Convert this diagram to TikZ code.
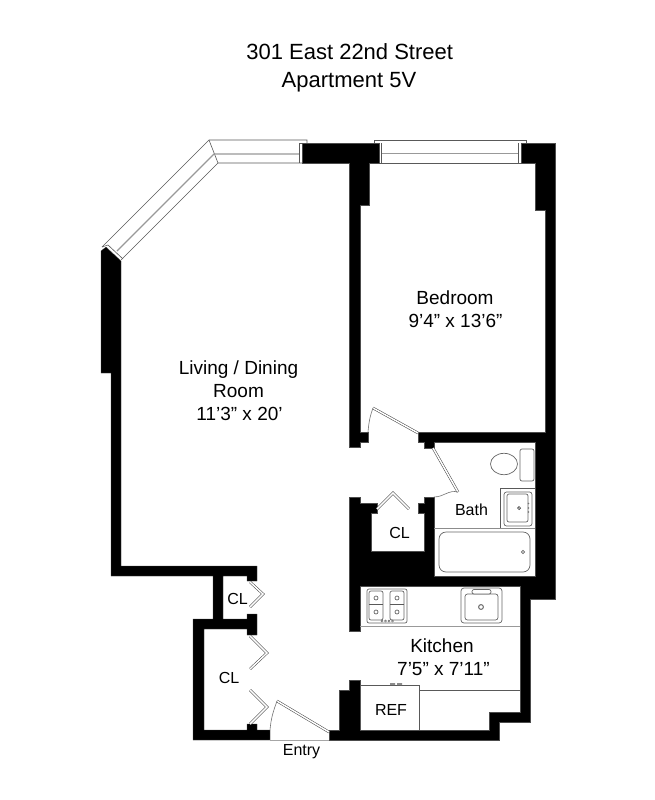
\documentclass[tikz,border=0pt]{standalone}
\usepackage{fontspec}
\setmainfont{Liberation Sans}
\tikzset{
  wall/.style={fill=black,draw=black!70,line width=0.3pt},
  thinl/.style={draw=black!65,line width=0.6pt},
  fix/.style={draw=black!60,line width=0.7pt,fill=white},
  sill/.style={draw=black!40,line width=1.4pt},
  leaf/.style={draw=black!75,line width=0.5pt,double=white,double distance=1.5pt},
  swing/.style={draw=black!55,line width=0.6pt},
  title/.style={font=\fontsize{22}{24}\selectfont,inner sep=0pt,anchor=base},
  room/.style={font=\fontsize{19}{21}\selectfont,inner sep=0pt,anchor=base},
  small/.style={font=\fontsize{16}{18}\selectfont,inner sep=0pt,anchor=base},
}
\begin{document}
\begin{tikzpicture}[x=1pt,y=-1pt]
\useasboundingbox (0,0) rectangle (655,800);
\fill[white] (0,0) rectangle (655,800);
% walls
\path[wall] (111,373)--(101,373)--(101,251)--(106,247)--(121,261)--(121,566)--(257,566)--(257,581)--(247,581)--(247,576)--(223,576)--(223,619)--(247,619)--(247,614)--(257,614)--(257,635)--(247,635)--(247,629)--(204,629)--(204,730)--(247,730)--(247,724)--(257,724)--(257,730)--(270,730)--(270,740)--(193,740)--(193,619)--(213,619)--(213,576)--(111,576)--cycle;
\path[wall] (302,143)--(379,143)--(379,163)--(369,163)--(369,205)--(360,205)--(360,432)--(368,432)--(368,442)--(360,442)--(360,447)--(349,447)--(349,163)--(302,163)--cycle;
\path[wall] (521,143)--(555,143)--(555,599)--(530,599)--(530,722)--(499,722)--(499,740)--(329,740)--(329,730)--(339,730)--(339,690)--(349,690)--(349,680)--(360,680)--(360,730)--(489,730)--(489,712)--(520,712)--(520,586)--(360,586)--(360,631)--(349,631)--(349,497)--(360,497)--(360,503)--(377,503)--(377,513)--(371,513)--(371,551)--(424,551)--(424,513)--(418,513)--(418,503)--(424,503)--(424,497)--(434,497)--(434,576)--(535,576)--(535,442)--(434,442)--(434,448)--(424,448)--(424,442)--(418,442)--(418,432)--(545,432)--(545,210)--(535,210)--(535,163)--(521,163)--cycle;
% angled window
\draw[thinl] (102,247)--(209,140)--(307,140)--(307,143);
\draw[thinl] (121,260)--(218,163)--(302,163);
\draw[thinl] (209,140)--(218,163);
\draw[sill] (117,251)--(214,154)--(299,154);
\draw[thinl] (299,143)--(299,163);
\draw[thinl] (299,143)--(302,143);
\draw[thinl] (108,245)--(123,259);
\draw[thinl] (102,247)--(108,245);
% bedroom window
\draw[thinl] (374,143)--(374,140)--(526,140)--(526,143);
\draw[thinl] (380,163)--(521,163);
\draw[sill] (382,153.5)--(518,153.5);
\draw[thinl] (381.5,143)--(381.5,163);
\draw[thinl] (518,143)--(518,163);
% doors
\draw[leaf] (418,433)--(373,408);
\draw[swing] (373,408) to[out=250,in=85] (368,432);
\draw[leaf] (433,448)--(458,492);
\draw[swing] (458,492) to[out=165,in=0] (434,497);
\draw[leaf] (377,509)--(393,493)--(409,509);
\draw[leaf] (250,582)--(263,594)--(250,607);
\draw[leaf] (250,636)--(267,653)--(250,669);
\draw[leaf] (250,690)--(267,707)--(250,724);
\draw[leaf] (329,732)--(277,701);
\draw[swing] (277,701) to[out=250,in=85] (270,730);
\draw[draw=black!35,line width=0.5pt] (270,740)--(329,740);
% bath
\draw[fix,rounded corners=2pt] (520,449) rectangle (534,481);
\draw[fix] (504,464) ellipse [x radius=13.5,y radius=10.7];
\draw[thinl,draw=black!45,line width=1pt] (434,528)--(535,528);
\draw[thinl] (500,528)--(500,488)--(535,488);
\draw[fix,rounded corners=2.5pt] (504,492) rectangle (532,526);
\draw[fix,rounded corners=2pt] (507,494) rectangle (528,522);
\draw[fix,draw=black!80] (519,508) circle (1.5);
\foreach \yy in {503.5,508,512} \fill[black!55] (528.5,\yy) circle (0.9);
\draw[fix,rounded corners=7pt] (439,532) rectangle (530,572);
\draw[fix] (523,552) circle (1.7);
% kitchen
\draw[draw=black!40,line width=1pt] (360,626)--(520,626);
\draw[fix,rounded corners=2pt] (367,589) rectangle (407,623);
\draw[fix,rounded corners=2pt] (369,591) rectangle (383,620);
\draw[fix,rounded corners=2pt] (390,591) rectangle (404,620);
\draw[thinl] (369,604.5)--(383,604.5) (390,604.5)--(404,604.5);
\foreach \px/\py in {376/598,376/612,397/598,397/612} \draw[fix] (\px,\py) circle (2);
\foreach \px in {382,385.5,389,392.5} \draw[fix,line width=0.5pt] (\px,621) circle (1.1);
\draw[fix,rounded corners=3pt] (461,588) rectangle (502,623);
\draw[fix,rounded corners=2.5pt] (465,594) rectangle (498,620);
\draw[fix,rounded corners=2pt] (472,589.5) rectangle (491,594);
\draw[draw=black!60,line width=1pt] (481,607) circle (2.4);
\draw[thinl] (360,690.5)--(520,690.5);
\draw[thinl,fill=white] (360,730)--(360,685)--(419,685)--(419,730);
\fill[black!45] (390,683) rectangle (395,685) (397,683) rectangle (402,685);
% labels
\node[title] (t1) at (349.7,59.5) {301 East 22nd Street};
\node[title] (t2) at (349,87) {Apartment 5V};
\node[room] (l1) at (238.5,374) {Living / Dining};
\node[room] (l2) at (238.5,397.3) {Room};
\node[room] (l3) at (239.5,420) {11’3” x 20’};
\node[room] (b1) at (455,304.5) {Bedroom};
\node[room] (b2) at (455.5,327.7) {9’4” x 13’6”};
\node[room] (k1) at (442,652.7) {Kitchen};
\node[room] (k2) at (443.5,675) {7’5” x 7’11”};
\node[small] (ba) at (471.5,515.7) {Bath};
\node[small] (c1) at (399.5,538.3) {CL};
\node[small] (c2) at (237.5,604.3) {CL};
\node[small] (c3) at (229,683.3) {CL};
\node[small] (re) at (391,715.3) {REF};
\node[small] (en) at (301.5,755.7) {Entry};
\end{tikzpicture}
\end{document}
